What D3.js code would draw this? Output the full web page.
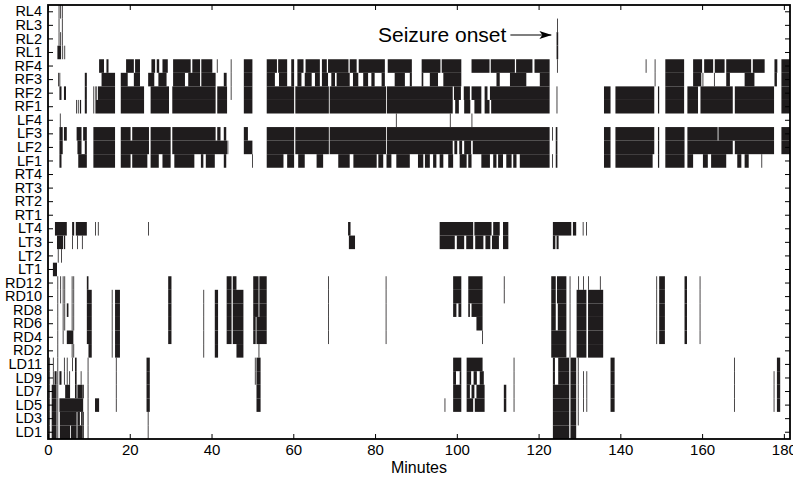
<!DOCTYPE html>
<html>
<head>
<meta charset="utf-8">
<script src="https://cdn.jsdelivr.net/npm/d3@7"></script>
<style>
body{margin:0;background:#fff;}
.canvas{width:793px;height:483px;}
text{font-family:Arial,"Liberation Sans",Helvetica,sans-serif;fill:#000;}
</style>
</head>
<body>
<div class="canvas" id="canvas"></div>
<script>
// channel labels, top to bottom
var channels = ['RL4','RL3','RL2','RL1','RF4','RF3','RF2','RF1','LF4','LF3','LF2','LF1',
    'RT4','RT3','RT2','RT1','LT4','LT3','LT2','LT1',
    'RD12','RD10','RD8','RD6','RD4','RD2','LD11','LD9','LD7','LD5','LD3','LD1'];

// active intervals per channel, [start, end] in minutes
var rl = [
    [[2.6,2.75],[3.0,3.1],[3.4,3.5]],
    [[2.6,2.7],[3.4,3.5],[124.55,124.65]],
    [[2.6,2.7],[3.0,3.1],[3.4,3.5],[124.4,124.8]],
    [[2.3,3.2],[3.5,3.6],[4.0,4.1],[124.4,124.8]]
];

var rf = [
    [[12.5,13.7],[14.3,14.8],[19.1,21],[21.3,22.5],[25.3,26.2],[26.6,27.2],[28,29.3],[30.6,34.9],[35.3,37.2],[37.5,40.2],[41.3,41.4],[44.7,44.8],[47.9,50],[53.5,56],[56.3,58.5],
     [59.5,60.2],[61,62.5],[63,66.5],[67,68.2],[68.5,73.5],[73.8,75.5],[76,82.4],[83.1,89],[91.4,96],[96.3,101.1],[103.6,108],[108.3,114.2],[114.5,118.5],[119,122.7],[124.5,124.6],
     [146.2,146.3],[148.4,148.5],[151,155.6],[157.8,160],[160.5,162.7],[163.1,165.5],[165.9,172],[172.4,175.3],[177.7,178.4],[179.4,181.5]],
    [[2.5,2.6],[2.8,2.9],[9,9.5],[13.1,16.4],[17.8,19.5],[21,22.5],[24.5,26],[27,29],[30.6,33.5],[34.3,37.2],[37.5,41],[43,43.7],[44.7,44.8],[47.9,50],[53.5,55.5],[56.5,58.5],
     [59.5,60.2],[61,62],[62.8,64.5],[65.3,66.5],[67,68.5],[69.3,70.2],[70.6,73.8],[74.6,75.9],[77.1,78.3],[79.1,79.9],[81.6,82.4],[84.8,87.3],[88.5,89],[91.4,91.8],[93.4,95.4],[96.7,101.1],[109.7,110.5],[113,117],[120.3,122.7],
     [148.4,148.5],[151,155.6],[157.8,159.8],[160.1,160.3],[162.9,163.1],[165.9,166.8],[170.4,172.8],[177.7,178.3],[179.4,181.5]],
    [[2.8,3.3],[3.9,4.4],[9,9.5],[11.1,11.3],[11.6,11.9],[12.2,16.4],[17.8,23.5],[25.1,29.6],[30.4,41],[41.4,43.8],[44.7,44.8],[47.9,50],[53.5,60.2],
     [60.5,68.7],[68.9,82.7],[82.9,99],[99.3,101],[101.7,103.2],[103.6,106],[106.8,107.5],[108.1,122.7],[124.4,124.6],
     [136,137.6],[138.8,148.3],[149.2,149.5],[151,155.6],[156.4,159],[159.6,167.5],[168,177.6],[179.4,181.5]],
    [[6.9,7.0],[7.3,7.4],[7.8,8.1],[9,9.5],[11.1,11.3],[11.6,16.4],[17.8,23.5],[25.1,29.6],[30.4,41],[41.4,43.8],[47.9,50],[53.5,60.2],
     [60.5,68.7],[68.9,82.7],[82.9,99],[99.6,100.5],[101.8,103.3],[104.3,106],[106.8,108],[108.4,122.7],[124.4,124.6],
     [136,137.6],[138.8,148.3],[149.2,149.5],[151,155.6],[156.4,159],[159.6,167.5],[168,177.6],[179.4,181.5]]
];

var lf = [
    [[2.9,3.0],[85.1,85.2],[98.3,98.4],[103.6,103.7]],
    [[2.8,3.6],[3.9,4.6],[7,8.2],[8.6,9.5],[11.1,16.4],[17.8,20.2],[20.6,24.7],[25.1,30],[30.4,41],[41.4,42.2],[43,43.6],[47.9,48.9],[53.5,60.2],
     [60.5,68.7],[68.9,82.7],[82.9,122.7],[123.3,123.4],[124.2,124.6],
     [136,137.6],[138.8,148.3],[149.2,149.5],[151,155.7],[156.4,163.8],[164,177.6],[179.4,181.5]],
    [[2.8,3.6],[7.2,8.2],[9,9.5],[11.1,16.4],[17.8,24.7],[25.1,30],[30.4,43.8],[43.9,44],[47.9,50],[53.5,60.2],
     [60.5,68.7],[68.9,82.7],[82.9,99],[99.4,100.1],[100.6,101.3],[101.8,103.5],[103.9,122.7],[124.2,124.6],
     [136,137.6],[138.8,148.3],[149.2,149.5],[151,155.7],[156.4,167.5],[168,177.6],[179.4,181.5]],
    [[2.8,3.3],[7.4,9.5],[11.1,16.4],[17.8,20.2],[20.6,24.3],[25.1,27.1],[28,30],[30.9,35.8],[37.4,38],[38.6,40.8],[43,43.6],[49.9,50],[53.5,57.6],[58.5,60.2],
     [61.2,62.8],[65.7,67.3],[71,73.8],[74.7,80.4],[80.8,82],[82.8,84],[85.2,88.5],[90.5,91.8],[92.2,93.4],[94.2,95],[95.8,96.7],[97.9,99.1],[100.7,102.4],[102.8,103.6],[106,108.1],[108.9,109.7],[110.1,111.3],[112.1,113.4],[113.8,114.6],[115.4,122.7],[123.3,123.4],[124.2,124.6],
     [136,137.6],[138.8,147.9],[149.2,149.5],[151,155.7],[156.4,157.8],[160.2,161.4],[162.2,165.9],[168.6,169.6],[170.4,171.4],[174.5,174.6]]
];

var rt = [[], [], [], []];

var lt = [
    [[1.7,4.6],[5.9,6.4],[6.8,9.5],[11.5,11.6],[12.2,12.3],[24.5,24.6],[73.4,74],[95.8,104],[104.3,108.5],[108.9,110.5],[111.3,112.6],[123.5,128],[128.4,129.2],[130.8,130.9],[131.6,131.7]],
    [[2.2,3.7],[3.9,4.2],[5.9,6.0],[7.1,7.2],[8.3,8.4],[73.6,75.1],[95.8,99.5],[100,101.8],[102.3,104],[104.5,106.5],[107,108.2],[108.6,110.3],[111.3,112.6],[123.5,124.1],[124.4,124.9]],
    [[2.4,2.5],[3.2,3.3]],
    [[1.2,2.2]]
];

var rd = [
    [[2.3,2.4],[3.0,3.05],[3.6,3.7],[4.0,4.1],[5.8,5.9],[6.2,6.3],[9.5,9.9],[29.4,30.2],[43.7,44.9],[45.2,46.1],[50.2,51.5],[51.7,53.5],[68.5,68.6],[82.6,82.7],[99.1,101.1],[102.8,106.3],[111.5,111.6],
     [123.1,124.2],[124.5,126.8],[127.6,127.7],[129.7,129.8],[130.9,131],[132.1,132.2],[135,135.1],[148.8,148.9],[149.5,150.9],[155.7,156.3],[159.4,159.5]],
    [[2.3,2.4],[3.0,3.05],[3.6,3.7],[4.0,4.1],[5.8,5.9],[6.2,6.3],[9.5,10.7],[15.6,15.7],[16.4,17.6],[29.4,30.2],[38,38.1],[40.8,41.6],[43.7,44.9],[45.2,47.8],[50.2,51.5],[51.7,53.5],[68.5,68.6],[82.6,82.7],[99.1,101.1],[102.8,106.3],[111.5,111.6],
     [123.1,124.2],[124.5,126.8],[127.6,127.7],[129.3,131.7],[132.1,135.8],[148.8,148.9],[149.5,150.9],[155.7,156.3],[159.4,159.5]],
    [[2.3,2.4],[3.6,3.7],[4.0,4.1],[4.6,5.0],[5.8,5.9],[6.2,6.3],[9.5,10.7],[15.6,15.7],[16.4,17.6],[29.4,30.2],[38,38.1],[40.8,41.6],[43.7,44.9],[45.2,47.8],[50.2,51.5],[51.7,53.5],[68.5,68.6],[82.6,82.7],[99.1,99.9],[100.4,101.1],[102.8,103.2],[103.6,106.3],
     [123.1,124.2],[124.7,126.8],[127.6,127.7],[129.3,131.7],[132.1,135.8],[148.8,148.9],[149.5,150.9],[155.7,156.3],[159.4,159.5]],
    [[2.3,2.4],[3.6,3.7],[4.0,4.1],[5.8,5.9],[6.2,6.3],[9.5,10.7],[15.6,15.7],[16.4,17.6],[29.4,30.2],[38,38.1],[40.8,41.6],[43.7,44.9],[45.2,47.8],[50.2,50.8],[51,53.5],[68.5,68.6],[82.6,82.7],[104.8,106.3],
     [123.1,124.2],[124.7,126.8],[127.6,127.7],[129.3,131.7],[132.1,135.8],[148.8,148.9],[149.5,150.9],[155.7,156.3],[159.4,159.5]],
    [[2.3,2.4],[3.6,3.7],[4.6,6.2],[9.5,10.7],[15.6,15.7],[16.4,17.6],[29.4,30.2],[38,38.1],[40.8,41.6],[43.7,44.9],[45.2,47.8],[50.2,50.8],[51,53.5],[68.5,68.6],[82.6,82.7],[106.2,106.3],
     [123.1,126.8],[127.6,127.7],[129.3,131.7],[132.1,135.8],[148.8,148.9],[149.5,150.9],[155.7,156.3],[159.4,159.5]],
    [[2.3,2.4],[5.8,5.9],[6.2,6.3],[9.9,10.7],[15.6,15.7],[16.4,17.6],[38,38.1],[40.8,41.6],[46.1,47.8],[51.5,51.7],
     [123.1,126.8],[127.6,127.7],[129.3,131.7],[132.1,135.8]]
];

var ld = [
    [[0.3,0.4],[1.2,1.3],[2.3,2.4],[3.9,4.1],[4.6,4.7],[5.9,6.1],[6.6,7],[9.7,9.8],[16.6,16.7],[24.1,24.9],[50.6,50.7],[51,52],[99.1,101.1],[102.4,106.3],[113.9,114],
     [123.5,124],[124.8,127.5],[127.8,129.2],[129.6,129.7],[137.6,138.6],[167.8,167.9],[178.3,179.1]],
    [[0.3,0.4],[1.2,1.3],[1.6,2.1],[2.3,2.4],[2.8,3.3],[3.9,4.1],[4.6,4.7],[5.2,5.4],[6.6,7],[8,8.1],[9.7,9.8],[16.6,16.7],[24.1,24.9],[50.6,50.7],[51,52],[99.1,99.8],[100.7,101.1],[102.4,103.5],[104.1,104.9],[105.6,106.6],[113.9,114],
     [123.5,124],[124.8,127.5],[127.8,129.2],[129.6,129.7],[130.9,131],[131.7,131.8],[137.6,138.6],[167.8,167.9],[177.5,177.6],[178.3,179.1]],
    [[0.3,0.4],[0.9,2.1],[2.3,2.4],[4.2,5.4],[6.6,7],[7.2,8.5],[8.6,8.7],[9.7,9.8],[16.6,16.7],[24.1,24.9],[51,52],[99.1,101.1],[102.4,103.2],[103.6,104.3],[104.8,106.8],[111.5,112.1],[113.9,114],
     [123.5,127.5],[127.8,129.2],[129.6,129.7],[130.9,131],[131.7,131.8],[137.6,138.6],[167.8,167.9],[177.5,177.6],[178.3,179.1]],
    [[0.3,0.4],[0.9,2.1],[2.3,2.4],[2.8,8.6],[9.7,9.8],[11.5,12.5],[16.6,16.7],[24.1,24.9],[51,52],[97,97.1],[99.1,101.1],[102.4,104],[104.4,106.8],[111.5,112.1],[113.9,114],
     [123.5,127.5],[127.8,129.2],[129.6,129.7],[130.9,131],[131.7,131.8],[137.6,138.6],[167.8,167.9],[177.5,177.6],[178.3,179.1]],
    [[0.3,0.4],[0.9,2.1],[2.3,2.4],[2.9,6.6],[6.6,7],[7.2,7.8],[8.1,8.5],[8.6,8.7],[9.7,9.8],[24.4,24.5],
     [123.5,127.5],[127.8,129.2],[129.6,129.7]],
    [[0.3,0.4],[0.9,2.1],[2.3,2.4],[2.9,5.4],[5.6,6.6],[6.6,7],[7.2,8.5],[8.6,8.7],[9.7,9.8],[24.4,24.5],
     [123.5,127.5],[127.8,129.2]]
];

var xTicks = [0,20,40,60,80,100,120,140,160,180];
var xMax = 181.5;
var xTitle = 'Minutes';
var onsetMinute = 124.6;
var onsetLabel = 'Seizure onset';

var m = {t:5,r:3,b:44,l:48},
    w = 793 - m.l - m.r,
    h = 483 - m.t - m.b;

var svg = d3.select('.canvas')
    .append('svg')
    .attr('width', w + m.l + m.r)
    .attr('height', h + m.t + m.b);

var plot = svg.append('g').attr('class','plot')
    .attr('transform','translate('+ m.l+','+ m.t+')');

var x = d3.scaleLinear().domain([0, xMax]).range([0, w]);
var y = d3.scaleBand().domain(channels).range([0, h]).padding(0);

var rows = rl.concat(rf, lf, rt, lt, rd, ld);
var events = [];
rows.forEach(function(r, i){
    r.forEach(function(d){
        events.push({ch: channels[i], s: d[0], e: d[1]});
    });
});

plot.selectAll('.ev')
    .data(events)
    .enter()
    .append('rect')
    .attr('class','ev')
    .attr('x', function(d){ return x(d.s); })
    .attr('width', function(d){ return Math.max(x(d.e) - x(d.s), 0.8); })
    .attr('y', function(d){ return y(d.ch); })
    .attr('height', y.bandwidth())
    .style('fill', '#1f1c1d');

// axes, ticks pointing inward
var yLeft = plot.append('g')
    .call(d3.axisLeft(y).tickSize(-5).tickPadding(6));
var yRight = plot.append('g')
    .attr('transform','translate('+w+',0)')
    .call(d3.axisRight(y).tickSize(-5).tickFormat(''));
var xBottom = plot.append('g')
    .attr('transform','translate(0,'+h+')')
    .call(d3.axisBottom(x).tickValues(xTicks).tickSize(-5).tickPadding(5.5));
var xTop = plot.append('g')
    .call(d3.axisTop(x).tickValues(xTicks).tickSize(-5).tickFormat(''));

plot.selectAll('.domain').remove();
plot.selectAll('.tick line').style('stroke','#000').style('stroke-width',1);
yLeft.selectAll('text').style('font-size','14.5px');
xBottom.selectAll('text').style('font-size','15px');

plot.append('rect')
    .attr('width', w)
    .attr('height', h)
    .style('fill','none')
    .style('stroke','#000')
    .style('stroke-width',1.8);

plot.append('text')
    .attr('x', w/2)
    .attr('y', h + 34)
    .attr('text-anchor','middle')
    .style('font-size','16px')
    .text(xTitle);

// onset annotation
svg.append('defs').append('marker')
    .attr('id','head')
    .attr('viewBox','0 0 12 8')
    .attr('refX',12).attr('refY',4)
    .attr('markerWidth',12).attr('markerHeight',8)
    .attr('markerUnits','userSpaceOnUse')
    .attr('orient','auto')
    .append('path')
    .attr('d','M0,0 L12,4 L0,8 L3,4 Z')
    .style('fill','#000');

var ax = x(onsetMinute);
plot.append('line')
    .attr('x1', ax - 47).attr('x2', ax - 6)
    .attr('y1', 30).attr('y2', 30)
    .style('stroke','#000')
    .style('stroke-width',1.2)
    .attr('marker-end','url(#head)');

plot.append('text')
    .attr('x', ax - 51)
    .attr('y', 36.5)
    .attr('text-anchor','end')
    .style('font-size','21px')
    .text(onsetLabel);
</script>
</body>
</html>
